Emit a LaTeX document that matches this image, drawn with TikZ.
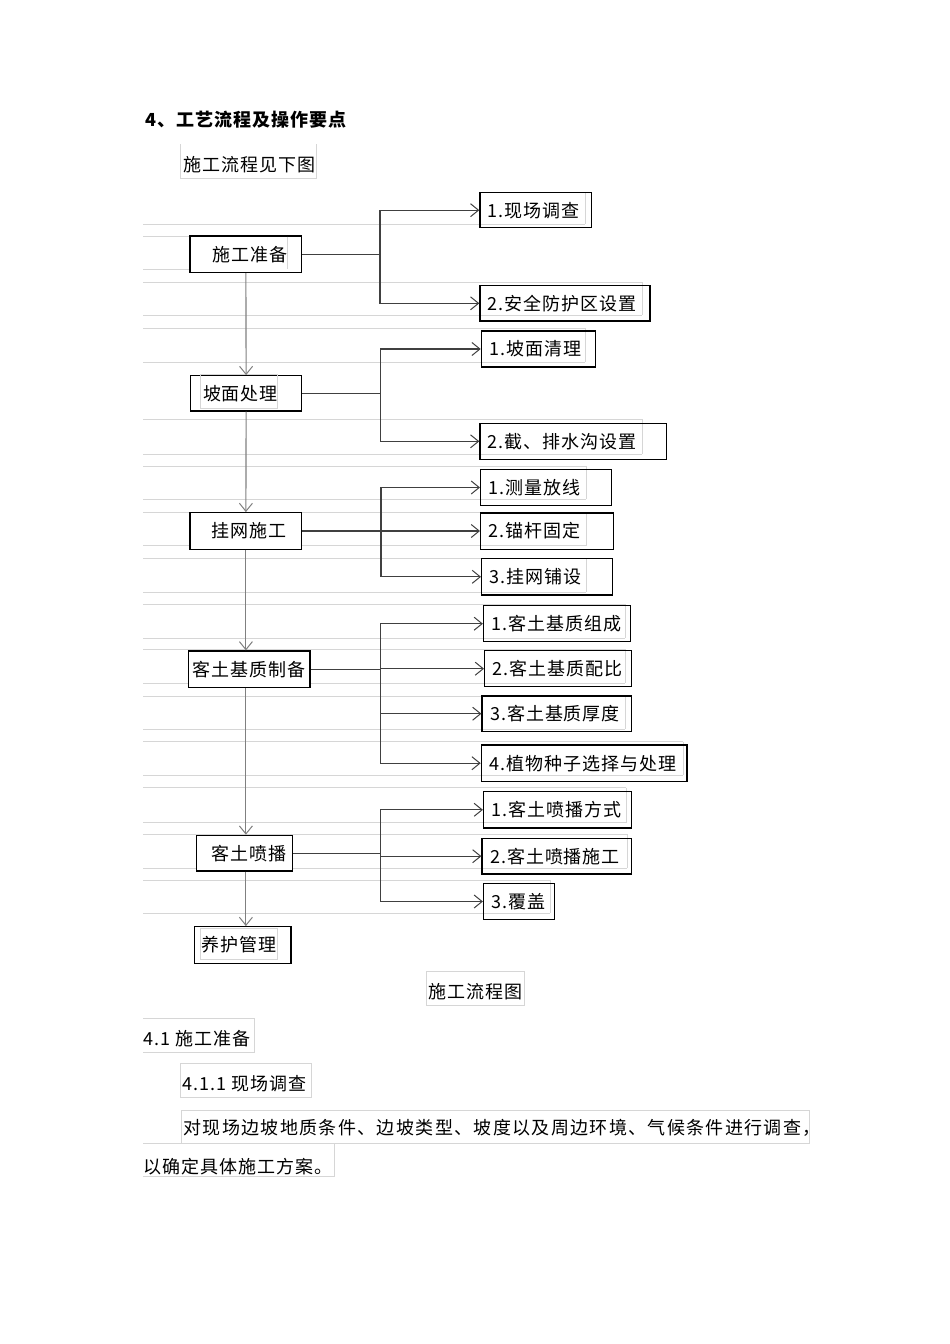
\documentclass[tikz,border=0pt]{standalone}
\usepackage{fontspec}
\setmainfont{Noto Sans CJK SC}[LetterSpace=5.5]
\newfontfamily\parafont{Noto Sans CJK SC}[LetterSpace=7.5]
\usetikzlibrary{arrows.meta}
\definecolor{framegray}{HTML}{D6D6D6}
\definecolor{linegray}{HTML}{808080}
\definecolor{linedark}{HTML}{404040}
\newcommand\padtext[3]{\makebox[#1pt][l]{\hspace*{#2pt}#3}}
\begin{document}
\begin{tikzpicture}[x=1pt,y=-1pt,
  every node/.style={font=\fontsize{18}{21}\selectfont},
  mainbox/.style={draw=black, fill=white, line width=1.3pt, inner xsep=0pt, inner ysep=0pt, minimum height=#1},
  subbox/.style={draw=black, line width=1.3pt, inner xsep=0pt, inner ysep=0pt, minimum height=#1, anchor=west},
  conn/.style={draw=linedark, line width=1.1pt},
  barb/.style={-{Straight Barb[length=8pt,width=13pt,line width=1pt]}},
  branch/.style={draw=linedark, line width=1.1pt, barb},
  flow/.style={draw=linegray, line width=1.1pt, barb},
  ghost/.style={draw=framegray, line width=0.8pt},
  plain/.style={anchor=west, inner sep=0pt},
]
\fill[white] (0,0) rectangle (950,1344);
\useasboundingbox (0,0) rectangle (950,1344);

% faint text-frame lines
\foreach \yy/\xe in {224.3/585, 236.7/287, 269/287, 282.3/642, 315/642, 328.3/585, 362.3/585,
  419.3/642, 454.3/642, 466/586, 499.3/586, 512.3/586, 545.7/586, 558.3/586, 592.3/586,
  604.3/625, 638.3/625, 649.3/625, 683.3/625, 696/625, 729.3/625, 741.7/683, 775/683,
  787.7/626, 822.7/626, 834.3/627, 868.3/627, 880.3/550, 913.3/550}
  \draw[ghost] (143,\yy) -- (\xe,\yy);
\foreach \xx/\ya/\yb in {585/192/224.3, 642.3/282.3/315, 585/328.3/362.3, 642.3/419.3/454.3,
  586/466/499.3, 586/512.3/545.7, 586/558.3/592.3, 625/604.3/638.3, 625/649.3/683.3,
  625/696/729.3, 683/741.7/775, 626/787.7/822.7, 627/834.3/868.3, 550/880.3/913.3}
  \draw[ghost] (\xx,\ya) -- (\xx,\yb);
\draw[ghost] (180.7,144) -- (180.7,178) -- (316.7,178) -- (316.7,144);
\draw[ghost] (426,971.7) rectangle (524.5,1005);
\draw[ghost] (143,1018.3) -- (254.3,1018.3) -- (254.3,1052.3) -- (143,1052.3);
\draw[ghost] (180.7,1063.3) rectangle (311.7,1097.3);
\draw[ghost] (181.7,1143.3) -- (181.7,1110) -- (809.7,1110) -- (809.7,1143.3);
\draw[ghost] (143,1143.3) -- (809.7,1143.3);
\draw[ghost] (334,1143.3) -- (334,1176.7) -- (143,1176.7);

% texts
\node[plain] (head) at (145,120) {\bfseries 4、工艺流程及操作要点};
\node[plain] (intro) at (183,165) {施工流程见下图};
\node[inner sep=0pt] (cap) at (475.5,991.7) {施工流程图};
\node[plain] (sec41) at (143.3,1039) {4.1 施工准备};
\node[plain] (sec411) at (182.3,1083.3) {4.1.1 现场调查};
\node[plain] (para1) at (183.3,1128.3) {\parafont 对现场边坡地质条件、边坡类型、坡度以及周边环境、气候条件进行调查，};
\node[plain] (para2) at (143.3,1166.7) {以确定具体施工方案。};

% main boxes
\node[mainbox=36.3pt] (p1) at (245.9,254.2) {\padtext{111.7}{22}{施工准备}};
\node[mainbox=35.3pt] (p2) at (246.1,393.4) {\padtext{111.2}{12.5}{坡面处理}};
\node[mainbox=36.6pt] (p3) at (245.9,531) {\padtext{111.7}{21.7}{挂网施工}};
\node[mainbox=36.7pt] (p4) at (249.2,669.4) {\padtext{121.7}{4.4}{客土基质制备}};
\node[mainbox=35.7pt] (p5) at (244.5,853.2) {\padtext{95.6}{15}{客土喷播}};
\node[mainbox=36.6pt] (p6) at (242.7,945) {\padtext{96.7}{7.4}{养护管理}};

% inner frames drawn over boxes
\draw[ghost] (287.3,236.7) -- (287.3,269);
\draw[ghost] (200.7,374.3) rectangle (277.3,408.3);
\draw[ghost] (200.7,928.3) rectangle (277.7,959.3);

% sub boxes
\node[subbox=35pt]   (s11) at (479.3,210.2) {\padtext{111.4}{8}{1.现场调查}};
\node[subbox=35.3pt] (s12) at (479.3,303.3) {\padtext{170}{8}{2.安全防护区设置}};
\node[subbox=36pt]   (s21) at (480.7,349)   {\padtext{114}{8}{1.坡面清理}};
\node[subbox=36pt]   (s22) at (479.3,441.3) {\padtext{186.7}{8}{2.截、排水沟设置}};
\node[subbox=36.4pt] (s31) at (480,487.5)   {\padtext{131}{8}{1.测量放线}};
\node[subbox=36.3pt] (s32) at (480,531)     {\padtext{133}{8}{2.锚杆固定}};
\node[subbox=36.3pt] (s33) at (481,576.8)   {\padtext{131}{8}{3.挂网铺设}};
\node[subbox=36pt]   (s41) at (482.9,623.7) {\padtext{146.6}{8}{1.客土基质组成}};
\node[subbox=36pt]   (s42) at (484,668.7)   {\padtext{146.5}{8}{2.客土基质配比}};
\node[subbox=35.3pt] (s43) at (481.4,713.7) {\padtext{149.1}{8}{3.客土基质厚度}};
\node[subbox=36.3pt] (s44) at (480.7,763.2) {\padtext{205.5}{8}{4.植物种子选择与处理}};
\node[subbox=36.3pt] (s51) at (482.9,809.8) {\padtext{147.6}{8}{1.客土喷播方式}};
\node[subbox=35.7pt] (s52) at (481.4,856.2) {\padtext{149.1}{8}{2.客土喷播施工}};
\node[subbox=36.4pt] (s53) at (482.9,901.5) {\padtext{71.1}{8}{3.覆盖}};

% branch points
\coordinate (b1) at (380,254.2);
\coordinate (b2) at (380.7,393.4);
\coordinate (b3) at (381,531);
\coordinate (b4) at (380.8,669.4);
\coordinate (b5) at (380.8,853.2);

% main flow
\draw[flow] (p1.south) -- (p2.north);
\draw[flow] (p2.south) -- (p3.north);
\draw[flow] (p3.south) -- (p3.south |- p4.north);
\draw[flow] (p3.south |- p4.south) -- (p3.south |- p5.north);
\draw[flow] (p3.south |- p5.south) -- (p3.south |- p6.north);

% branches
\draw[conn] (p1.east) -- (b1);
\draw[branch] (b1) |- (s11.west);
\draw[branch] (b1) |- (s12.west);
\draw[conn] (p2.east) -- (b2);
\draw[branch] (b2) |- (s21.west);
\draw[branch] (b2) |- (s22.west);
\draw[conn] (p3.east) -- (b3);
\draw[branch] (b3) |- (s31.west);
\draw[branch] (b3) |- (s32.west);
\draw[branch] (b3) |- (s33.west);
\draw[conn] (p4.east) -- (b4);
\draw[branch] (b4) |- (s41.west);
\draw[branch] (b4) |- (s42.west);
\draw[branch] (b4) |- (s43.west);
\draw[branch] (b4) |- (s44.west);
\draw[conn] (p5.east) -- (b5);
\draw[branch] (b5) |- (s51.west);
\draw[branch] (b5) |- (s52.west);
\draw[branch] (b5) |- (s53.west);
\end{tikzpicture}
\end{document}
